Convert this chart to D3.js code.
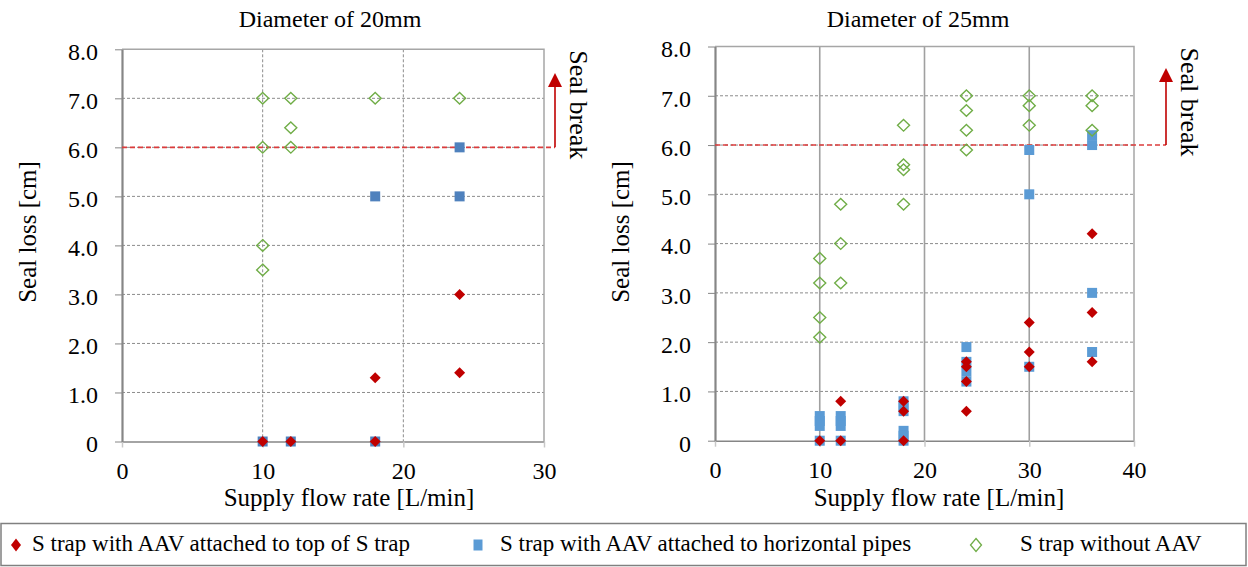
<!DOCTYPE html>
<html>
<head>
<meta charset="utf-8">
<script src="https://cdn.jsdelivr.net/npm/d3@7"></script>
<style>
  body { margin: 0; background: #fff; }
</style>
</head>
<body>
<script>

    // Diameter of 20mm
    var flow20Top  = [10, 12, 18, 18, 24, 24],
        loss20Top  = [0, 0, 1.3, 0, 3.0, 1.4];
    var flow20Hor  = [10, 12, 18, 18, 24, 24],
        loss20Hor  = [0, 0, 5.0, 0, 6.0, 5.0];
    var flow20None = [10, 10, 10, 10, 12, 12, 12, 18, 24],
        loss20None = [7.0, 6.0, 4.0, 3.5, 7.0, 6.4, 6.0, 7.0, 7.0];

    // Diameter of 25mm
    var flow25Top  = [10, 12, 12, 18, 18, 18, 24, 24, 24, 24, 30, 30, 30, 36, 36, 36],
        loss25Top  = [0, 0.8, 0, 0.8, 0.6, 0, 1.6, 1.5, 1.2, 0.6, 2.4, 1.8, 1.5, 4.2, 2.6, 1.6];
    var flow25Hor  = [10, 10, 10, 10, 12, 12, 12, 12, 18, 18, 18, 18, 18, 18, 24, 24, 24, 24, 30, 30, 30, 36, 36, 36, 36],
        loss25Hor  = [0.5, 0.4, 0.3, 0, 0.5, 0.4, 0.3, 0, 0.8, 0.7, 0.6, 0.2, 0.1, 0, 1.9, 1.6, 1.4, 1.2, 5.9, 5.0, 1.5, 6.2, 6.0, 3.0, 1.8];
    var flow25None = [10, 10, 10, 10, 12, 12, 12, 18, 18, 18, 18, 24, 24, 24, 24, 30, 30, 30, 36, 36, 36],
        loss25None = [3.7, 3.2, 2.5, 2.1, 4.8, 4.0, 3.2, 6.4, 5.6, 5.5, 4.8, 7.0, 6.7, 6.3, 5.9, 7.0, 6.8, 6.4, 7.0, 6.8, 6.3];

    var yTicks = [0, 1, 2, 3, 4, 5, 6, 7, 8],
        xTicks20 = [0, 10, 20, 30],
        xTicks25 = [0, 10, 20, 30, 40];
    var sealLevel = 6.0;

    var seriesNames = ["S trap with AAV attached to top of S trap",
                       "S trap with AAV attached to horizontal pipes",
                       "S trap without AAV"];

    var red = "#c00000", green = "#70ad47";
    var serif = "'Liberation Serif', 'Times New Roman', Times, 'DejaVu Serif', serif";

    var svg = d3.select("body").append("svg")
        .attr("width", 1248)
        .attr("height", 567)
        .style("font-family", serif);

    function zip(xs, ys) { return xs.map(function(v, i) { return [v, ys[i]]; }); }

    function diamond(w, h) { return "M0," + (-h) + "L" + w + ",0L0," + h + "L" + (-w) + ",0Z"; }
    function square(w, h) { return "M" + (-w) + "," + (-h) + "h" + (2 * w) + "v" + (2 * h) + "h" + (-2 * w) + "Z"; }

    function panel(o) {
        var x = d3.scaleLinear().domain([0, o.xMax]).range([o.left, o.right]);
        var y = d3.scaleLinear().domain([0, 8]).range([o.bottom, o.top]);
        var g = svg.append("g");

        // grid
        g.selectAll(".hg").data(yTicks.slice(1, -1)).enter().append("line")
            .attr("x1", o.left).attr("x2", o.right)
            .attr("y1", y).attr("y2", y)
            .attr("stroke", "#8c8c8c").attr("stroke-dasharray", "3,2");
        g.selectAll(".vg").data(o.xTicks.slice(1, -1)).enter().append("line")
            .attr("x1", x).attr("x2", x)
            .attr("y1", o.top).attr("y2", o.bottom)
            .attr("stroke", o.solidV ? "#a0a0a0" : "#8c8c8c")
            .attr("stroke-width", o.solidV ? 1.6 : 1)
            .attr("stroke-dasharray", o.solidV ? null : "3,2");

        g.append("path")
            .attr("d", "M" + o.left + "," + o.top + "H" + o.right + "V" + o.bottom)
            .attr("fill", "none").attr("stroke", "#a6a6a6").attr("stroke-width", 1.5);

        // axes
        var xa = g.append("g").attr("transform", "translate(0," + o.bottom + ")")
            .call(d3.axisBottom(x).tickValues(o.xTicks).tickSize(6).tickSizeOuter(0).tickPadding(14));
        xa.attr("font-size", 24).attr("font-family", serif);
        xa.select(".domain").attr("stroke", "#868686").attr("stroke-width", 1.5);
        xa.selectAll(".tick line").attr("stroke", "#c8c8c8").attr("stroke-width", 1.5);

        var ya = g.append("g").attr("transform", "translate(" + o.left + ",0)")
            .call(d3.axisLeft(y).tickValues(yTicks).tickSize(7).tickSizeOuter(0).tickPadding(17)
                .tickFormat(function(d) { return d === 0 ? "0" : d.toFixed(1); }));
        ya.attr("font-size", 24).attr("font-family", serif);
        ya.selectAll(".tick text").attr("dy", "0.43em");
        ya.select(".domain").attr("stroke", "#868686").attr("stroke-width", 2.2);
        ya.selectAll(".tick line").attr("stroke", "#868686");

        // seal break
        g.append("line")
            .attr("x1", o.left).attr("x2", o.arrowX)
            .attr("y1", y(sealLevel)).attr("y2", y(sealLevel))
            .attr("stroke", "#dc3c3c").attr("stroke-width", 1.6).attr("stroke-dasharray", "5,3");
        g.append("line")
            .attr("x1", o.arrowX).attr("x2", o.arrowX)
            .attr("y1", y(sealLevel)).attr("y2", o.arrowTip + 12)
            .attr("stroke", red).attr("stroke-width", 1.6);
        g.append("path")
            .attr("d", "M" + o.arrowX + "," + o.arrowTip + "l7,14h-14Z")
            .attr("fill", red);
        g.append("text")
            .attr("transform", "translate(" + (o.arrowX + 15) + "," + (o.top + 1) + ") rotate(90)")
            .attr("font-size", 26)
            .text("Seal break");

        // points
        g.selectAll(".hor").data(zip(o.hor[0], o.hor[1])).enter().append("path")
            .attr("transform", function(d) { return "translate(" + x(d[0]) + "," + y(d[1]) + ")"; })
            .attr("d", square(5, 5)).attr("fill", o.blue);
        g.selectAll(".top").data(zip(o.topv[0], o.topv[1])).enter().append("path")
            .attr("transform", function(d) { return "translate(" + x(d[0]) + "," + y(d[1]) + ")"; })
            .attr("d", diamond(5.5, 5.5)).attr("fill", red);
        g.selectAll(".none").data(zip(o.none[0], o.none[1])).enter().append("path")
            .attr("transform", function(d) { return "translate(" + x(d[0]) + "," + y(d[1]) + ")"; })
            .attr("d", diamond(6, 5.8)).attr("fill", "none").attr("stroke", green).attr("stroke-width", 1.4);

        // titles
        g.append("text").attr("x", o.titleX).attr("y", 27)
            .attr("text-anchor", "middle").attr("font-size", 24).text(o.title);
        g.append("text").attr("x", o.xTitleX).attr("y", 506)
            .attr("text-anchor", "middle").attr("font-size", 25).text("Supply flow rate [L/min]");
        g.append("text")
            .attr("transform", "translate(" + (o.left - 86) + ",232) rotate(-90)")
            .attr("text-anchor", "middle").attr("font-size", 25).text("Seal loss [cm]");
    }

    panel({left: 122, right: 544, top: 49.3, bottom: 441.5, xMax: 30, xTicks: xTicks20,
           solidV: false, blue: "#4f81bd", arrowX: 555, arrowTip: 73,
           title: "Diameter of 20mm", titleX: 330, xTitleX: 349,
           topv: [flow20Top, loss20Top], hor: [flow20Hor, loss20Hor], none: [flow20None, loss20None]});

    panel({left: 715, right: 1134, top: 46.5, bottom: 440.7, xMax: 40, xTicks: xTicks25,
           solidV: true, blue: "#5b9bd5", arrowX: 1166, arrowTip: 68,
           title: "Diameter of 25mm", titleX: 918, xTitleX: 939,
           topv: [flow25Top, loss25Top], hor: [flow25Hor, loss25Hor], none: [flow25None, loss25None]});

    // legend
    var lg = svg.append("g");
    lg.append("rect").attr("x", 1).attr("y", 523.5).attr("width", 1245).attr("height", 42)
        .attr("fill", "none").attr("stroke", "#808080").attr("stroke-width", 1.5);
    var legX = [[16, 32], [478, 500], [976, 1020]];
    var legMark = [
        {d: diamond(5, 6.5), fill: red, stroke: "none"},
        {d: square(4.5, 5.5), fill: "#5b9bd5", stroke: "none"},
        {d: diamond(5.5, 6.5), fill: "none", stroke: green}
    ];
    seriesNames.forEach(function(name, i) {
        lg.append("path").attr("transform", "translate(" + legX[i][0] + ",545)")
            .attr("d", legMark[i].d).attr("fill", legMark[i].fill)
            .attr("stroke", legMark[i].stroke).attr("stroke-width", 1.3);
        lg.append("text").attr("x", legX[i][1]).attr("y", 551).attr("font-size", 23).text(name);
    });

</script>
</body>
</html>
